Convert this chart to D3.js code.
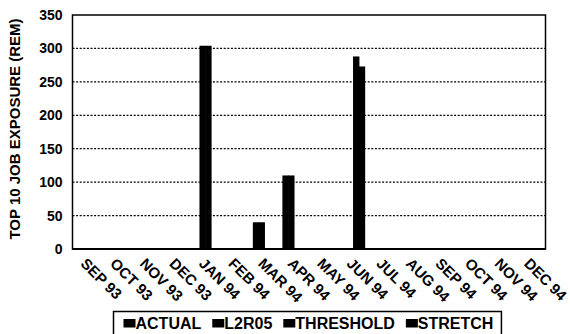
<!DOCTYPE html>
<html>
<head>
<meta charset="utf-8">
<script src="https://cdn.jsdelivr.net/npm/d3@7/dist/d3.min.js"></script>
<style>
  body { margin: 0; background: #fff; }
  svg { display: block; }
  text { font-family: "Liberation Sans", Arial, Helvetica, sans-serif; font-weight: bold; fill: #000; }
</style>
</head>
<body>
<svg id="chart" width="570" height="334"></svg>
<script>
const months = ["SEP 93","OCT 93","NOV 93","DEC 93","JAN 94","FEB 94","MAR 94","APR 94","MAY 94","JUN 94","JUL 94","AUG 94","SEP 94","OCT 94","NOV 94","DEC 94"];
const seriesNames = ["ACTUAL","L2R05","THRESHOLD","STRETCH"];
const actual    = [0,0,0,0,0,0,40,110,0,0,0,0,0,0,0,0];
const l2r05     = [0,0,0,0,304,0,40,110,0,0,0,0,0,0,0,0];
const threshold = [0,0,0,0,304,0,0,0,0,288,0,0,0,0,0,0];
const stretch   = [0,0,0,0,0,0,0,0,0,273,0,0,0,0,0,0];
const yTicks = [0,50,100,150,200,250,300,350];
const yTitle = "TOP 10 JOB EXPOSURE (REM)";

const seriesValues = [actual, l2r05, threshold, stretch];

const svg = d3.select("#chart");
const L = 72.5, R = 545.5, T = 15, B = 249;

const x0 = d3.scaleBand().domain(months).range([L, R]).paddingInner(0.22).paddingOuter(0.11);
const x1 = d3.scaleBand().domain(seriesNames).range([0, x0.bandwidth()]).padding(0);
const y = d3.scaleLinear().domain([0, 350]).range([B, T]);

// gridlines
svg.append("g").selectAll("line")
  .data(yTicks.filter(d => d > 0 && d < 350))
  .join("line")
  .attr("x1", L).attr("x2", R)
  .attr("y1", d => y(d)).attr("y2", d => y(d))
  .attr("stroke", "#000").attr("stroke-width", 1.2)
  .attr("stroke-dasharray", "2,1.6");

// bars
const groups = svg.append("g").selectAll("g")
  .data(months)
  .join("g")
  .attr("transform", d => `translate(${x0(d)},0)`);

groups.selectAll("rect")
  .data((m, i) => seriesNames.map((s, k) => ({ s, v: seriesValues[k][i] })))
  .join("rect")
  .attr("x", d => x1(d.s) - 0.3)
  .attr("width", x1.bandwidth() + 0.6)
  .attr("y", d => y(d.v))
  .attr("height", d => B - y(d.v))
  .attr("fill", "#000");

// frame
svg.append("rect")
  .attr("x", L).attr("y", T)
  .attr("width", R - L).attr("height", B - T)
  .attr("fill", "none").attr("stroke", "#000").attr("stroke-width", 1.5);
svg.append("line")
  .attr("x1", L).attr("x2", R).attr("y1", B).attr("y2", B)
  .attr("stroke", "#000").attr("stroke-width", 2.2);

// y axis labels
const yAxis = d3.axisLeft(y).tickValues(yTicks).tickSize(0).tickPadding(10);
const ya = svg.append("g").attr("transform", `translate(${L},0)`).call(yAxis);
ya.select(".domain").remove();
ya.selectAll("text").style("font-size", "14px").style("font-family", "'Liberation Sans', Arial, sans-serif").style("font-weight", "bold");

// x axis labels
const xa = svg.append("g");
xa.selectAll("text")
  .data(months)
  .join("text")
  .attr("transform", d => `translate(${x0(d) + x0.bandwidth() / 2 + 1},256) rotate(45)`)
  .attr("dy", "0.8em")
  .attr("text-anchor", "start")
  .style("font-size", "15px")
  .text(d => d);

// y title
svg.append("text")
  .attr("transform", `translate(20,129) rotate(-90)`)
  .attr("text-anchor", "middle")
  .style("font-size", "15px")
  .text(yTitle);

// legend
const leg = svg.append("g");
const legTop = 311.5, legLeft = 113.5;
let cx = legLeft + 10;
seriesNames.forEach((name, k) => {
  const g = leg.append("g");
  g.append("rect").attr("x", cx).attr("y", 319).attr("width", 12).attr("height", 8.5).attr("fill", "#000");
  const t = g.append("text").attr("x", cx + 12).attr("y", 328.5).style("font-size", "16px").text(name);
  const w = t.node().getComputedTextLength();
  cx += 12 + w + 11;
});
leg.insert("rect", ":first-child")
  .attr("x", legLeft).attr("y", legTop)
  .attr("width", cx - 11 + 8 - legLeft).attr("height", 40)
  .attr("fill", "#fff").attr("stroke", "#000").attr("stroke-width", 1.5);
</script>
</body>
</html>
